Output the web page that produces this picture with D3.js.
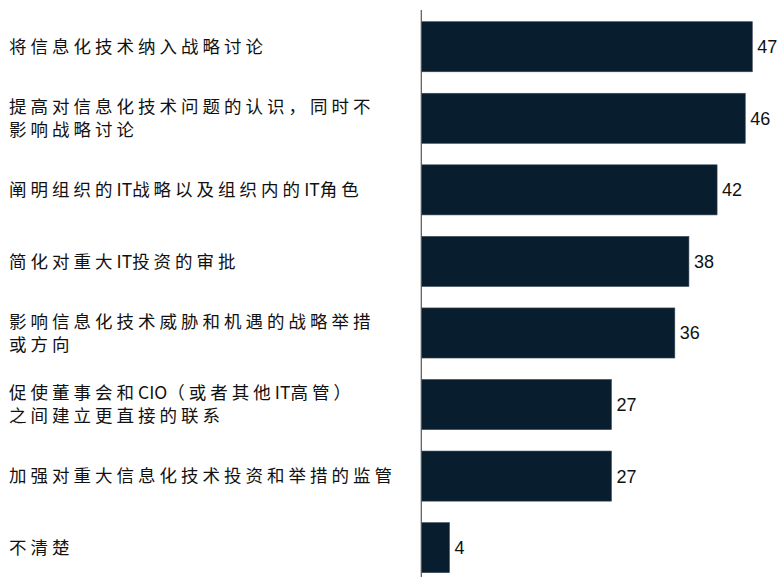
<!DOCTYPE html>
<html>
<head>
<meta charset="utf-8">
<script src="https://cdn.jsdelivr.net/npm/d3@7"></script>
<style>
  html, body { margin: 0; padding: 0; background: #fff; }
  svg { display: block; }
</style>
</head>
<body>
<svg id="chart" width="782" height="577"></svg>
<script>
const categories = [
  ["将信息化技术纳入战略讨论"],
  ["提高对信息化技术问题的认识，同时不", "影响战略讨论"],
  ["阐明组织的IT战略以及组织内的IT角色"],
  ["简化对重大IT投资的审批"],
  ["影响信息化技术威胁和机遇的战略举措", "或方向"],
  ["促使董事会和CIO（或者其他IT高管）", "之间建立更直接的联系"],
  ["加强对重大信息化技术投资和举措的监管"],
  ["不清楚"]
];
const values = [47, 46, 42, 38, 36, 27, 27, 4];

const svg = d3.select("#chart");
const x0 = 421.3;
const x = d3.scaleLinear().domain([0, 47]).range([x0, 752.3]);
const y = d3.scaleBand().domain(d3.range(values.length)).range([21.7, 572.7]).paddingInner(0.3).paddingOuter(0);

// bars
svg.selectAll("rect.bar").data(values).join("rect")
  .attr("class", "bar")
  .attr("x", x(0))
  .attr("y", (d, i) => y(i))
  .attr("width", d => x(d) - x(0))
  .attr("height", y.bandwidth())
  .attr("fill", "#081d2e")
  .attr("stroke", "#3b4a58")
  .attr("stroke-width", 0.6);

// axis line
svg.append("line")
  .attr("x1", x0).attr("x2", x0)
  .attr("y1", 10).attr("y2", 577)
  .attr("stroke", "#555").attr("stroke-width", 1.2);

// value labels
svg.selectAll("text.val").data(values).join("text")
  .attr("class", "val")
  .attr("x", d => x(d) + 5)
  .attr("y", (d, i) => y(i) + y.bandwidth() / 2)
  .attr("dy", "0.36em")
  .attr("font-family", "'Liberation Sans', Arial, sans-serif")
  .attr("font-size", 18)
  .attr("fill", "#111")
  .text(d => d);

// category labels
const lineH = 23;
function runs(s) {
  return s.match(/[A-Za-z0-9]+|[^A-Za-z0-9]+/g);
}
const g = svg.selectAll("text.cat").data(categories).join("text")
  .attr("class", "cat")
  .attr("font-family", "'Noto Sans CJK SC', sans-serif")
  .attr("font-size", 17.5)
  .attr("fill", "#111");
g.each(function(lines, i) {
  const cy = y(i) + y.bandwidth() / 2;
  const startY = cy - (lines.length - 1) * lineH / 2;
  const t = d3.select(this);
  lines.forEach((l, j) => {
    runs(l).forEach((r, k) => {
      const latin = /^[A-Za-z0-9]+$/.test(r);
      const ts = t.append("tspan")
        .attr("letter-spacing", latin ? "0px" : "4px")
        .text(r);
      if (k === 0) ts.attr("x", 9).attr("y", startY + j * lineH).attr("dy", "0.36em");
    });
  });
});
</script>
</body>
</html>
